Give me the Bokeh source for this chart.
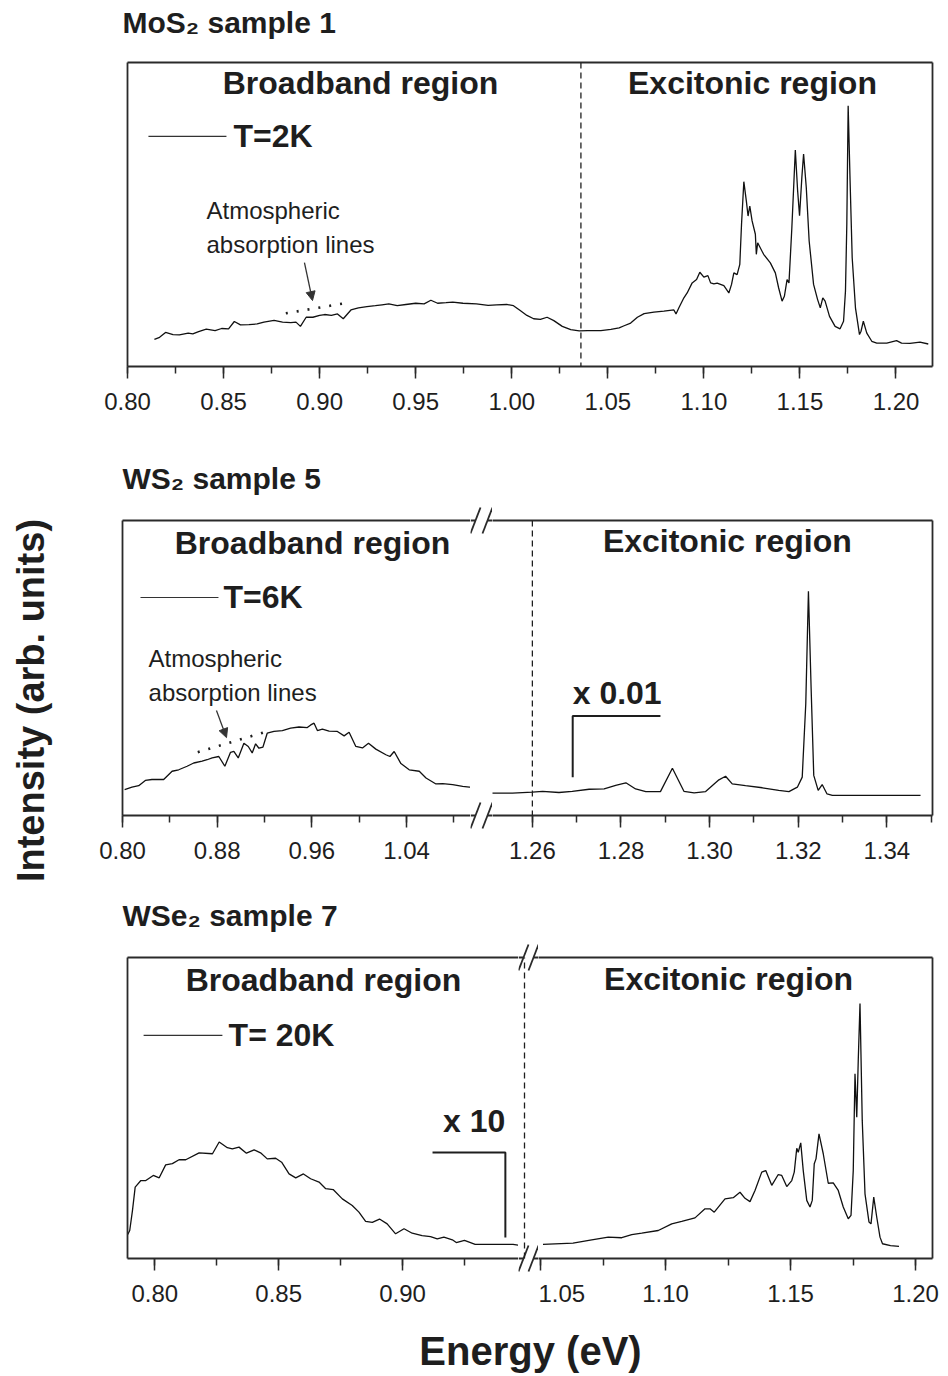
import math
from bokeh.plotting import figure
from bokeh.models import (LinearAxis, SingleIntervalTicker, FixedTicker, PrintfTickFormatter,
                          Span, Label, Arrow, NormalHead, Range1d)
from bokeh.layouts import column, row
from bokeh.embed import file_html
from bokeh.resources import INLINE

# ---------------- data (energy in eV, intensity in arb. units) ----------------
mos2_energy = [
    0.814, 0.8167, 0.8198, 0.8237, 0.827, 0.8316, 0.834, 0.837, 0.841, 0.8456,
    0.849, 0.8526, 0.8556, 0.8588, 0.8632, 0.8675, 0.871, 0.8763, 0.8807, 0.885,
    0.8877, 0.89, 0.893, 0.8965, 0.90, 0.9026, 0.9061, 0.9093, 0.9123, 0.9163,
    0.9202, 0.9246, 0.929, 0.9325, 0.936, 0.9404, 0.9449, 0.95, 0.9544, 0.9579,
    0.9614, 0.9658, 0.9693, 0.9746, 0.9816, 0.9877, 0.9921, 0.9974, 1.0009, 1.0044,
    1.0079, 1.0114, 1.0149, 1.0184, 1.0219, 1.0263, 1.0307, 1.0351, 1.0395,
    1.0464, 1.0516, 1.0559, 1.0585, 1.0619, 1.0654, 1.0689, 1.074, 1.0792, 1.0844,
    1.0855, 1.087, 1.0896, 1.0913, 1.0939, 1.0962, 1.0979, 1.10, 1.1021, 1.1035,
    1.1052, 1.1069, 1.1104, 1.113, 1.1144, 1.1156, 1.1173, 1.1187, 1.1196, 1.1208,
    1.1221, 1.123, 1.1239, 1.1251, 1.1268, 1.1273, 1.128, 1.1311, 1.1346, 1.1372,
    1.1389, 1.1407, 1.1419, 1.1433, 1.1443, 1.1458, 1.1476, 1.1488, 1.1498, 1.151,
    1.1519, 1.1533, 1.1548, 1.1571, 1.1592, 1.1606, 1.1619, 1.1631, 1.1654, 1.1683,
    1.1709, 1.1727, 1.1737, 1.1744, 1.1751, 1.1761, 1.1772, 1.1789, 1.181, 1.1818,
    1.183, 1.1848, 1.1874, 1.19, 1.1952, 1.2003, 1.2029, 1.2073, 1.2125, 1.2168,
]
mos2_intensity = [
    0.089, 0.096, 0.112, 0.105, 0.104, 0.110, 0.107, 0.115, 0.123, 0.118,
    0.125, 0.124, 0.148, 0.137, 0.138, 0.140, 0.146, 0.152, 0.146, 0.144,
    0.146, 0.132, 0.162, 0.162, 0.168, 0.171, 0.168, 0.173, 0.157, 0.186,
    0.193, 0.197, 0.200, 0.203, 0.206, 0.200, 0.204, 0.208, 0.206, 0.218,
    0.208, 0.210, 0.212, 0.208, 0.206, 0.201, 0.203, 0.204, 0.200, 0.184,
    0.168, 0.157, 0.155, 0.162, 0.151, 0.132, 0.121, 0.117, 0.118,
    0.118, 0.122, 0.127, 0.134, 0.143, 0.162, 0.174, 0.179, 0.182, 0.186,
    0.173, 0.193, 0.226, 0.242, 0.275, 0.286, 0.310, 0.294, 0.299, 0.275,
    0.272, 0.274, 0.266, 0.242, 0.270, 0.308, 0.302, 0.336, 0.468, 0.608,
    0.545, 0.495, 0.528, 0.479, 0.435, 0.369, 0.407, 0.369, 0.341, 0.308,
    0.259, 0.215, 0.231, 0.286, 0.275, 0.457, 0.712, 0.578, 0.496, 0.622,
    0.699, 0.589, 0.413, 0.270, 0.220, 0.193, 0.226, 0.215, 0.165, 0.132,
    0.124, 0.149, 0.248, 0.468, 0.858, 0.611, 0.358, 0.193, 0.105, 0.116,
    0.149, 0.110, 0.083, 0.077, 0.077, 0.085, 0.077, 0.076, 0.080, 0.074,
]

ws2_broad_energy = [
    0.8018, 0.808, 0.8137, 0.8193, 0.8249, 0.8348, 0.8419, 0.8475, 0.8546, 0.8602,
    0.8673, 0.8715, 0.8758, 0.8814, 0.8865, 0.8913, 0.8941, 0.8978, 0.9026, 0.9063,
    0.9096, 0.9125, 0.9153, 0.9187, 0.9223, 0.928, 0.9351, 0.9421, 0.9492, 0.9562,
    0.9591, 0.9619, 0.9647, 0.9689, 0.9746, 0.9816, 0.9873, 0.9915, 0.9972, 1.0028,
    1.0079, 1.0141, 1.0226, 1.026, 1.0296, 1.0353, 1.0423, 1.0508, 1.0565, 1.0649,
    1.0706, 1.079, 1.0875, 1.0932, 1.099,
]
ws2_broad_intensity = [
    0.088, 0.096, 0.101, 0.119, 0.122, 0.122, 0.150, 0.155, 0.167, 0.178,
    0.184, 0.189, 0.195, 0.200, 0.167, 0.214, 0.217, 0.195, 0.245, 0.234,
    0.212, 0.243, 0.228, 0.232, 0.279, 0.285, 0.288, 0.296, 0.300, 0.298,
    0.307, 0.313, 0.288, 0.293, 0.286, 0.285, 0.270, 0.282, 0.234, 0.229,
    0.245, 0.225, 0.206, 0.200, 0.217, 0.176, 0.155, 0.150, 0.127, 0.107,
    0.108, 0.105, 0.099, 0.096, 0.096,
]
ws2_exc_energy = [
    1.2506, 1.2555, 1.26, 1.2623, 1.266, 1.269, 1.2728, 1.2762, 1.2788, 1.2811,
    1.2833, 1.2856, 1.2889, 1.2916, 1.2942, 1.2965, 1.2991, 1.3021, 1.3036, 1.3051,
    1.3081, 1.3119, 1.3156, 1.3179, 1.3198, 1.3209, 1.3217, 1.3223, 1.3229, 1.3235,
    1.3245, 1.3254, 1.3265, 1.3277, 1.3344, 1.3476,
]
ws2_exc_intensity = [
    0.076, 0.076, 0.079, 0.082, 0.078, 0.082, 0.089, 0.090, 0.102, 0.111,
    0.090, 0.081, 0.081, 0.160, 0.082, 0.077, 0.081, 0.121, 0.133, 0.107,
    0.101, 0.094, 0.085, 0.081, 0.096, 0.130, 0.379, 0.760, 0.435, 0.136,
    0.085, 0.105, 0.073, 0.068, 0.068, 0.068,
]

wse2_broad_energy = [
    0.7891, 0.7899, 0.791, 0.7921, 0.7944, 0.7964, 0.7994, 0.8018, 0.8044, 0.8071,
    0.8098, 0.8125, 0.8179, 0.8233, 0.826, 0.8293, 0.8313, 0.834, 0.837, 0.8401,
    0.8427, 0.8454, 0.8488, 0.8512, 0.8542, 0.8569, 0.86, 0.8629, 0.8663, 0.869,
    0.872, 0.8757, 0.8797, 0.8824, 0.8851, 0.8878, 0.8907, 0.8938, 0.8972, 0.9006,
    0.9039, 0.9079, 0.9113, 0.914, 0.9167, 0.9201, 0.9217, 0.925, 0.9293, 0.9358,
    0.9446, 0.9495,
]
wse2_broad_intensity = [
    0.080, 0.093, 0.159, 0.237, 0.259, 0.259, 0.276, 0.268, 0.311, 0.315,
    0.328, 0.328, 0.351, 0.348, 0.387, 0.368, 0.364, 0.370, 0.350, 0.361,
    0.351, 0.331, 0.333, 0.320, 0.281, 0.268, 0.281, 0.265, 0.254, 0.232,
    0.229, 0.198, 0.176, 0.154, 0.123, 0.120, 0.131, 0.115, 0.082, 0.099,
    0.084, 0.076, 0.073, 0.065, 0.071, 0.062, 0.053, 0.060, 0.047, 0.047,
    0.047, 0.040,
]
wse2_exc_energy = [
    1.051, 1.063, 1.0705, 1.0771, 1.0825, 1.0865, 1.0905, 1.0971, 1.1025, 1.1065,
    1.1118, 1.1158, 1.1178, 1.1195, 1.1238, 1.1271, 1.1298, 1.1318, 1.1338, 1.1358,
    1.1385, 1.1401, 1.1425, 1.1451, 1.1465, 1.1485, 1.1505, 1.1515, 1.1525, 1.1531,
    1.1541, 1.1551, 1.1565, 1.1578, 1.1587, 1.1595, 1.1602, 1.1614, 1.1631, 1.1651,
    1.1671, 1.1691, 1.1711, 1.1731, 1.1742, 1.1751, 1.1758, 1.1765, 1.1771, 1.1778,
    1.1787, 1.1798, 1.1814, 1.1822, 1.1833, 1.1845, 1.1858, 1.1868, 1.19, 1.1934,
]
wse2_exc_intensity = [
    0.047, 0.051, 0.062, 0.071, 0.069, 0.079, 0.084, 0.093, 0.115, 0.123,
    0.135, 0.165, 0.165, 0.154, 0.198, 0.202, 0.220, 0.200, 0.189, 0.226,
    0.287, 0.292, 0.243, 0.279, 0.276, 0.239, 0.259, 0.287, 0.366, 0.353,
    0.384, 0.292, 0.193, 0.171, 0.193, 0.315, 0.331, 0.414, 0.348, 0.250,
    0.251, 0.226, 0.171, 0.132, 0.143, 0.292, 0.614, 0.469, 0.658, 0.847,
    0.458, 0.215, 0.121, 0.115, 0.204, 0.137, 0.071, 0.049, 0.043, 0.040,
]

panel_titles = ["MoS\u2082 sample 1", "WS\u2082 sample 5", "WSe\u2082 sample 7"]
temperatures = ["T=2K", "T=6K", "T= 20K"]
region_names = ["Broadband region", "Excitonic region"]
scale_notes = ["x 0.01", "x 10"]
axis_titles = ["Energy (eV)", "Intensity (arb. units)"]

# ---------------- styling ----------------
INK = "#1e1e1e"
FRAME = "#2a2a2a"
FONT = "Liberation Sans"
FRAME_W = 1.8
LEFT_STRIP = 60          # width of the column holding the vertical axis title
MAIN_W = 948 - LEFT_STRIP


def blank(width, height):
    """A bare canvas whose data units are pixels (used for titles and axis breaks)."""
    f = figure(frame_width=width, frame_height=height, min_border=0,
               x_range=Range1d(0, width), y_range=Range1d(0, height),
               x_axis_location=None, y_axis_location=None, toolbar_location=None,
               output_backend="svg", outline_line_color=None,
               background_fill_color="white", border_fill_color="white")
    f.grid.visible = False
    return f


def hidden_axis():
    return LinearAxis(ticker=FixedTicker(ticks=[]), major_tick_line_color=None,
                      minor_tick_line_color=None, major_label_text_font_size="0px",
                      major_label_standoff=0, axis_line_color=FRAME, axis_line_width=FRAME_W)


def segment(xr, fw, fh, borders, interval, left=False, right=False):
    bl, br, bt, bb = borders
    p = figure(x_range=Range1d(*xr), y_range=Range1d(0, 1), frame_width=fw, frame_height=fh,
               min_border_left=bl, min_border_right=br, min_border_top=bt, min_border_bottom=bb,
               x_axis_location=None, y_axis_location=None, toolbar_location=None,
               output_backend="svg", outline_line_color=None,
               background_fill_color="white", border_fill_color="white")
    p.grid.visible = False
    bottom = LinearAxis(ticker=SingleIntervalTicker(interval=interval, num_minor_ticks=2),
                        formatter=PrintfTickFormatter(format="%.2f"),
                        major_tick_in=0, major_tick_out=12, minor_tick_in=0, minor_tick_out=7,
                        major_tick_line_color=FRAME, minor_tick_line_color=FRAME,
                        major_tick_line_width=1.5, minor_tick_line_width=1.5,
                        major_label_standoff=14, major_label_text_font=FONT,
                        major_label_text_font_size="24px", major_label_text_color=INK,
                        axis_line_color=FRAME, axis_line_width=FRAME_W)
    p.add_layout(bottom, "below")
    p.add_layout(hidden_axis(), "above")
    if left:
        p.add_layout(hidden_axis(), "left")
    if right:
        p.add_layout(hidden_axis(), "right")
    return p


def text(p, x, y, s, size="32px", style="bold", align="left", angle=0.0):
    p.add_layout(Label(x=x, y=y, text=s, text_font=FONT, text_font_size=size,
                       text_font_style=style, text_align=align, text_baseline="middle",
                       text_color=INK, angle=angle))


def spectrum(p, xs, ys):
    p.line(xs, ys, line_color="#111111", line_width=1.3)


def legend_key(p, x0, x1, y, label, x_text):
    p.line([x0, x1], [y, y], line_color="#333333", line_width=1.2)
    text(p, x_text, y, label)


def divider(p, x):
    p.add_layout(Span(location=x, dimension="height", line_color=INK,
                      line_dash="6 4", line_width=1.3))


def absorption_note(p, x_text, y1, y2, arrow, dots):
    text(p, x_text, y1, "Atmospheric", size="24px", style="normal")
    text(p, x_text, y2, "absorption lines", size="24px", style="normal")
    (ax0, ay0, ax1, ay1) = arrow
    p.add_layout(Arrow(end=NormalHead(size=9, fill_color="#333333", line_color="#333333",
                                      line_width=1),
                       x_start=ax0, y_start=ay0, x_end=ax1, y_end=ay1,
                       line_color="#333333", line_width=1.3))
    (dx0, dy0, dx1, dy1) = dots
    p.line([dx0, dx1], [dy0, dy1], line_color=INK, line_width=2.6, line_dash="2 9")


def axis_break(width, height, y_top, y_bottom, s1, s2, dash_x=None):
    """Strip between two axis segments: frame stubs plus the '//' break marks."""
    g = blank(width, height)
    for y in (y_top, y_bottom):
        g.segment(x0=[0, s2], y0=[y, y], x1=[s1, width], y1=[y, y],
                  line_color=FRAME, line_width=FRAME_W)
        g.segment(x0=[s1 - 5, s2 - 5], y0=[y - 13, y - 13], x1=[s1 + 5, s2 + 5],
                  y1=[y + 13, y + 13], line_color=FRAME, line_width=1.8)
    if dash_x is not None:
        g.segment(x0=[dash_x], y0=[y_bottom], x1=[dash_x], y1=[y_top],
                  line_color=INK, line_dash="6 4", line_width=1.3)
    return g


def title_strip(height, y, label):
    t = blank(MAIN_W, height)
    text(t, 62, y, label, size="30px")
    return t


# ---------------- panel 1: MoS2 ----------------
t1 = title_strip(44, 22, panel_titles[0])
p1 = segment((0.80, 1.219), 805, 304, (67, 16, 18, 74), 0.05, left=True, right=True)
spectrum(p1, mos2_energy, mos2_intensity)
divider(p1, 1.036)
text(p1, 0.9213, 0.931, region_names[0], align="center")
text(p1, 1.1253, 0.931, region_names[1], align="center")
legend_key(p1, 0.8109, 0.8515, 0.757, temperatures[0], 0.8552)
absorption_note(p1, 0.8411, 0.513, 0.401, (0.8921, 0.342, 0.8963, 0.217),
                (0.8824, 0.175, 0.9159, 0.211))

# ---------------- panel 2: WS2 (broken axis) ----------------
t2 = title_strip(60, 22, panel_titles[1])
p2a = segment((0.80, 1.0941), 348, 295, (62, 0, 20, 70), 0.08, left=True)
g2 = axis_break(22, 385, 365, 70, 5, 17)
p2b = segment((1.251, 1.3503), 440, 295, (0, 16, 20, 70), 0.02, right=True)
spectrum(p2a, ws2_broad_energy, ws2_broad_intensity)
spectrum(p2b, ws2_exc_energy, ws2_exc_intensity)
divider(p2b, 1.26)
text(p2a, 0.9606, 0.925, region_names[0], align="center")
text(p2b, 1.3040, 0.932, region_names[1], align="center")
legend_key(p2a, 0.8152, 0.8811, 0.739, temperatures[1], 0.8854)
absorption_note(p2a, 0.822, 0.532, 0.417, (0.8794, 0.356, 0.8879, 0.264),
                (0.8636, 0.2146, 0.9200, 0.2824))
p2b.line([1.2691, 1.2691, 1.2889], [0.130, 0.337, 0.337], line_color=INK, line_width=2)
text(p2b, 1.2691, 0.414, scale_notes[0])

# ---------------- panel 3: WSe2 (broken axis) ----------------
t3 = title_strip(50, 20, panel_titles[2])
p3a = segment((0.789, 0.9468), 391, 301, (67, 0, 22, 60), 0.05, left=True)
g3 = axis_break(20, 383, 361, 60, 5, 15, dash_x=6)
p3b = segment((1.0492, 1.2068), 394, 301, (0, 16, 22, 60), 0.05, right=True)
spectrum(p3a, wse2_broad_energy, wse2_broad_intensity)
spectrum(p3b, wse2_exc_energy, wse2_exc_intensity)
text(p3a, 0.8681, 0.924, region_names[0], align="center")
text(p3b, 1.1252, 0.930, region_names[1], align="center")
legend_key(p3a, 0.7955, 0.8273, 0.741, temperatures[2], 0.8298)
p3a.line([0.9121, 0.9415, 0.9415], [0.352, 0.352, 0.070], line_color=INK, line_width=2)
text(p3a, 0.9415, 0.458, scale_notes[1], align="right")

# ---------------- shared axis titles ----------------
xl = blank(MAIN_W, 58)
text(xl, 470, 26, axis_titles[0], size="40px", align="center")
yl = blank(LEFT_STRIP, 1376)
text(yl, 30, 676, axis_titles[1], size="38px", align="center", angle=math.pi / 2)

# strips and break pieces are wrapped so their frames are not aligned with the panels
main = column(row(t1), p1, row(t2),
              row(p2a, column(g2), p2b, spacing=0),
              row(t3),
              row(p3a, column(g3), p3b, spacing=0),
              row(xl), spacing=0)
layout = row(yl, main, spacing=0)

open("out.html", "w").write(file_html(layout, INLINE))
